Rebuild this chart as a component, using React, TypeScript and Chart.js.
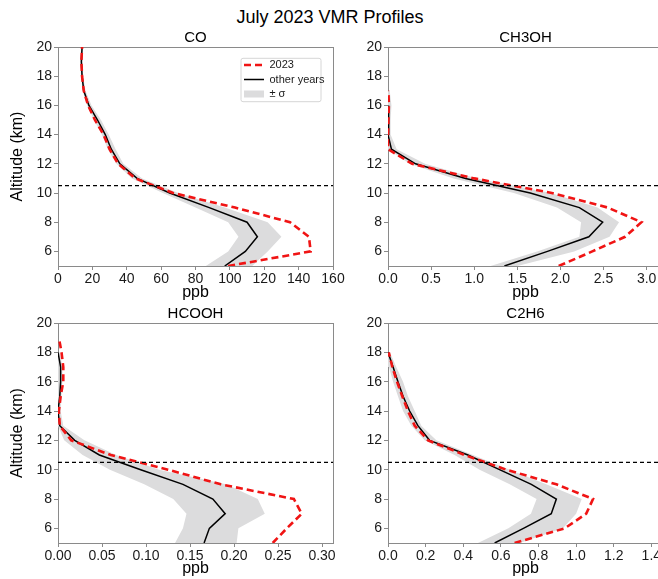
import React, { useEffect, useRef } from 'react';
import { Chart, registerables } from 'chart.js';

Chart.register(...registerables);

// ---------- data ----------
const ALTITUDE_KM = [5, 6, 7, 8, 9, 10, 11, 12, 13, 14, 15, 16, 17, 18, 19, 20];
const Y_TICKS = [6, 8, 10, 12, 14, 16, 18, 20];
const TROPOPAUSE_KM = 10.5;

const CO_2023 = [99, 147, 146, 135, 103, 67, 45, 35, 30, 26.5, 21.5, 17.5, 15, 14, 13.6, 14];
const CO_OTHER = [97, 109, 116, 110, 88, 65, 46, 36, 31, 27.5, 23, 18, 15, 14, 13.6, 14];
const CO_LO = [86, 99, 105, 99, 80, 61, 43, 34, 29, 25.5, 21, 17, 14.3, 13.4, 13, 13.4];
const CO_HI = [113, 122, 130, 122, 97, 70, 49, 38, 33.5, 29.5, 25, 19.5, 16, 14.6, 14.2, 14.6];
const CO_X_TICKS = [0, 20, 40, 60, 80, 100, 120, 140, 160];

const CH3OH_2023 = [1.98, 2.37, 2.75, 2.94, 2.55, 1.9, 1.0, 0.28, 0.0, 0.0, 0.005, 0.01, 0.005, null, null, null];
const CH3OH_OTHER = [1.35, 1.85, 2.33, 2.49, 2.22, 1.65, 0.9, 0.32, 0.04, 0.0, 0.005, 0.01, null, null, null, null];
const CH3OH_LO = [1.19, 1.73, 2.22, 2.24, 1.96, 1.46, 0.76, 0.25, 0.0, 0.0, 0.0, 0.0, 0.0, null, null, null];
const CH3OH_HI = [1.5, 2.16, 2.57, 2.68, 2.43, 1.89, 1.03, 0.43, 0.1, 0.03, 0.03, 0.04, 0.02, null, null, null];
const CH3OH_X_TICKS = [0, 0.5, 1.0, 1.5, 2.0, 2.5, 3.0];

const HCOOH_2023 = [0.244, 0.26, 0.277, 0.268, 0.185, 0.125, 0.06, 0.015, 0.002, 0.001, 0.003, 0.006, 0.006, 0.004, 0.001, null];
const HCOOH_OTHER = [0.166, 0.172, 0.19, 0.176, 0.142, 0.094, 0.047, 0.019, 0.002, 0.0, 0.002, 0.003, 0.003, 0.0, null, null];
const HCOOH_LO = [0.133, 0.142, 0.146, 0.131, 0.098, 0.059, 0.028, 0.007, 0.0, 0.0, 0.0, 0.0, 0.0, 0.0, null, null];
const HCOOH_HI = [0.203, 0.205, 0.235, 0.227, 0.191, 0.115, 0.066, 0.03, 0.006, 0.003, 0.004, 0.005, 0.005, 0.002, null, null];
const HCOOH_X_TICKS = [0, 0.05, 0.1, 0.15, 0.2, 0.25, 0.3];

const C2H6_2023 = [0.673, 0.939, 1.054, 1.09, 0.895, 0.629, 0.407, 0.213, 0.142, 0.106, 0.076, 0.048, 0.023, 0.004, null, null];
const C2H6_OTHER = [0.567, 0.72, 0.868, 0.895, 0.762, 0.593, 0.425, 0.221, 0.159, 0.115, 0.08, 0.053, 0.027, 0.0, null, null];
const C2H6_LO = [0.478, 0.64, 0.76, 0.79, 0.647, 0.487, 0.354, 0.195, 0.124, 0.08, 0.053, 0.027, 0.005, 0.0, null, null];
const C2H6_HI = [0.7, 0.93, 1.0, 1.03, 0.841, 0.647, 0.452, 0.257, 0.177, 0.142, 0.106, 0.08, 0.044, 0.01, null, null];
const C2H6_X_TICKS = [0, 0.2, 0.4, 0.6, 0.8, 1.0, 1.2, 1.4];

// ---------- panel definitions ----------
const PANELS = [
  { title: 'CO', y2023: CO_2023, other: CO_OTHER, lo: CO_LO, hi: CO_HI, xTicks: CO_X_TICKS, xMax: 160, decimals: 0 },
  { title: 'CH3OH', y2023: CH3OH_2023, other: CH3OH_OTHER, lo: CH3OH_LO, hi: CH3OH_HI, xTicks: CH3OH_X_TICKS, xMax: 3.19, decimals: 1 },
  { title: 'HCOOH', y2023: HCOOH_2023, other: HCOOH_OTHER, lo: HCOOH_LO, hi: HCOOH_HI, xTicks: HCOOH_X_TICKS, xMax: 0.3125, decimals: 2 },
  { title: 'C2H6', y2023: C2H6_2023, other: C2H6_OTHER, lo: C2H6_LO, hi: C2H6_HI, xTicks: C2H6_X_TICKS, xMax: 1.462, decimals: 1 },
];

// ---------- layout / style ----------
const LAYOUT = [
  { left: 0, top: 27, width: 350, height: 276, xAxisH: 37, rightW: 17, yTitle: true, legend: true },
  { left: 330, top: 27, width: 340, height: 276, xAxisH: 37, rightW: 7, yTitle: false, legend: false },
  { left: 0, top: 303, width: 350, height: 276, xAxisH: 36, rightW: 17, yTitle: true, legend: false },
  { left: 330, top: 303, width: 340, height: 276, xAxisH: 36, rightW: 7, yTitle: false, legend: false },
];

const FONT = '"Liberation Sans", Arial, Helvetica, sans-serif';
const RED = '#f01414';
const BAND = '#dcdcdd';
const SPINE = '#8a8a8a';
const TEXT = '#1a1a1a';

Chart.defaults.font.family = FONT;

const toPoints = (vals: (number | null)[]) =>
  ALTITUDE_KM.map((a, i) => (vals[i] == null ? null : { x: vals[i] as number, y: a })).filter(Boolean) as { x: number; y: number }[];

const legendPlacer = {
  id: 'legendPlacer',
  afterLayout(chart: any) {
    const lg = chart.legend;
    if (!lg || !lg.options.display) return;
    const ca = chart.chartArea;
    const w = lg.width;
    const h = lg.height;
    lg.left = ca.right - 92.5;
    lg.right = lg.left + w;
    lg.top = ca.top + 9;
    lg.bottom = lg.top + h;
  },
  beforeDraw(chart: any) {
    const lg = chart.legend;
    if (!lg || !lg.options.display) return;
    const ca = chart.chartArea;
    const ctx = chart.ctx;
    const x = ca.right - 92;
    const y = ca.top + 11.3;
    const w = 80;
    const h = 43.4;
    const r = 2;
    ctx.save();
    ctx.beginPath();
    ctx.moveTo(x + r, y);
    ctx.lineTo(x + w - r, y);
    ctx.quadraticCurveTo(x + w, y, x + w, y + r);
    ctx.lineTo(x + w, y + h - r);
    ctx.quadraticCurveTo(x + w, y + h, x + w - r, y + h);
    ctx.lineTo(x + r, y + h);
    ctx.quadraticCurveTo(x, y + h, x, y + h - r);
    ctx.lineTo(x, y + r);
    ctx.quadraticCurveTo(x, y, x + r, y);
    ctx.closePath();
    ctx.fillStyle = 'rgba(255,255,255,0.9)';
    ctx.fill();
    ctx.strokeStyle = '#d6d6d6';
    ctx.lineWidth = 1;
    ctx.stroke();
    ctx.restore();
  },
};

function Panel({ panel, layout }: { panel: any; layout: any }) {
  const ref = useRef<HTMLCanvasElement | null>(null);

  useEffect(() => {
    if (!ref.current) return;
    const xMin = panel.xTicks[0];
    const xMax = panel.xMax;
    const axisGrid = {
      display: true,
      drawOnChartArea: false,
      drawTicks: true,
      tickLength: 4,
      tickWidth: 1,
      tickColor: SPINE,
      color: SPINE,
    };
    const chart = new Chart(ref.current, {
      type: 'line',
      data: {
        datasets: [
          {
            label: 'tropopause',
            data: [
              { x: xMin, y: TROPOPAUSE_KM },
              { x: xMax, y: TROPOPAUSE_KM },
            ],
            borderColor: '#000',
            borderWidth: 1.2,
            borderDash: [4, 3],
            pointRadius: 0,
            fill: false,
            xAxisID: 'x',
            yAxisID: 'y',
          },
          {
            label: '2023',
            data: toPoints(panel.y2023),
            borderColor: RED,
            borderWidth: 2.6,
            borderDash: [7, 4],
            pointRadius: 0,
            fill: false,
            xAxisID: 'x',
            yAxisID: 'y',
          },
          {
            label: 'other years',
            data: toPoints(panel.other),
            borderColor: '#000',
            borderWidth: 1.5,
            pointRadius: 0,
            fill: false,
            xAxisID: 'x',
            yAxisID: 'y',
          },
          {
            label: '± σ',
            data: toPoints(panel.lo),
            borderColor: 'rgba(0,0,0,0)',
            borderWidth: 0,
            backgroundColor: BAND,
            pointRadius: 0,
            fill: '+1',
            xAxisID: 'x',
            yAxisID: 'y',
          },
          {
            label: 'σ upper',
            data: toPoints(panel.hi),
            borderColor: 'rgba(0,0,0,0)',
            borderWidth: 0,
            backgroundColor: BAND,
            pointRadius: 0,
            fill: false,
            xAxisID: 'x',
            yAxisID: 'y',
          },
        ],
      },
      options: {
        indexAxis: 'y',
        animation: false,
        responsive: false,
        devicePixelRatio: 1,
        events: [],
        layout: { padding: 0 },
        plugins: {
          tooltip: { enabled: false },
          title: {
            display: true,
            text: panel.title,
            fullSize: false,
            color: '#000',
            font: { family: FONT, size: 15, weight: 'normal' },
            padding: { top: 2, bottom: 0 },
          },
          legend: {
            display: layout.legend,
            position: 'chartArea',
            align: 'start',
            labels: {
              usePointStyle: true,
              pointStyleWidth: 20,
              boxHeight: 7,
              padding: 3.5,
              color: TEXT,
              font: { family: FONT, size: 11 },
              generateLabels: (ch: any) =>
                ch.data.datasets
                  .map((ds: any, i: number) => ({ ds, i }))
                  .filter(({ ds }: any) => ['2023', 'other years', '± σ'].includes(ds.label))
                  .map(({ ds, i }: any) => {
                    const isBand = ds.label === '± σ';
                    return {
                      text: ds.label,
                      datasetIndex: i,
                      hidden: false,
                      fontColor: TEXT,
                      pointStyle: isBand ? 'rect' : 'line',
                      fillStyle: isBand ? BAND : ds.borderColor,
                      strokeStyle: isBand ? BAND : ds.borderColor,
                      lineWidth: isBand ? 0 : ds.borderWidth,
                      lineDash: ds.borderDash || [],
                      lineCap: 'butt',
                    };
                  }),
            },
          },
        },
        scales: {
          x: {
            type: 'linear',
            position: 'bottom',
            min: xMin,
            max: xMax,
            afterBuildTicks: (s: any) => {
              s.ticks = panel.xTicks.map((v: number) => ({ value: v }));
            },
            afterFit: (s: any) => {
              s.height = layout.xAxisH;
            },
            ticks: {
              autoSkip: false,
              maxRotation: 0,
              padding: 1,
              color: TEXT,
              font: { family: FONT, size: 14 },
              callback: (v: any) => Number(v).toFixed(panel.decimals),
            },
            grid: axisGrid,
            border: { display: true, color: SPINE, width: 1 },
            title: {
              display: true,
              text: 'ppb',
              color: '#000',
              font: { family: FONT, size: 16 },
              padding: { top: 0, bottom: 0.5 },
            },
          },
          y: {
            type: 'linear',
            position: 'left',
            min: 5,
            max: 20,
            afterBuildTicks: (s: any) => {
              s.ticks = Y_TICKS.map((v) => ({ value: v }));
            },
            afterFit: (s: any) => {
              s.width = 58;
            },
            ticks: {
              autoSkip: false,
              padding: 2,
              color: TEXT,
              font: { family: FONT, size: 14 },
              callback: (v: any) => String(v),
            },
            grid: axisGrid,
            border: { display: true, color: SPINE, width: 1 },
            title: {
              display: layout.yTitle,
              text: 'Altitude (km)',
              color: '#000',
              font: { family: FONT, size: 16 },
              padding: { top: 8.4, bottom: 0 },
            },
          },
          x2: {
            type: 'linear',
            position: 'top',
            min: xMin,
            max: xMax,
            ticks: { display: false },
            grid: { display: false, drawTicks: false },
            border: { display: true, color: SPINE, width: 1 },
            afterFit: (s: any) => {
              s.height = 0;
            },
          },
          y2: {
            type: 'linear',
            position: 'right',
            min: 5,
            max: 20,
            ticks: { display: false },
            grid: { display: false, drawTicks: false },
            border: { display: true, color: SPINE, width: 1 },
            afterFit: (s: any) => {
              s.width = layout.rightW;
            },
          },
        },
      } as any,
      plugins: [legendPlacer],
    } as any);
    return () => chart.destroy();
  }, [panel, layout]);

  return (
    <canvas
      ref={ref}
      width={layout.width}
      height={layout.height}
      style={{ position: 'absolute', left: layout.left, top: layout.top, width: layout.width, height: layout.height }}
    />
  );
}

export default function App() {
  return (
    <div
      style={{
        position: 'absolute',
        left: 0,
        top: 0,
        width: 658,
        height: 579,
        overflow: 'hidden',
        background: '#fff',
      }}
    >
      <div
        style={{
          position: 'absolute',
          left: 0,
          top: 7,
          width: 660,
          textAlign: 'center',
          fontFamily: FONT,
          fontSize: 18,
          lineHeight: '20px',
          color: '#000',
        }}
      >
        July 2023 VMR Profiles
      </div>
      {PANELS.map((p, i) => (
        <Panel key={p.title} panel={p} layout={LAYOUT[i]} />
      ))}
    </div>
  );
}
